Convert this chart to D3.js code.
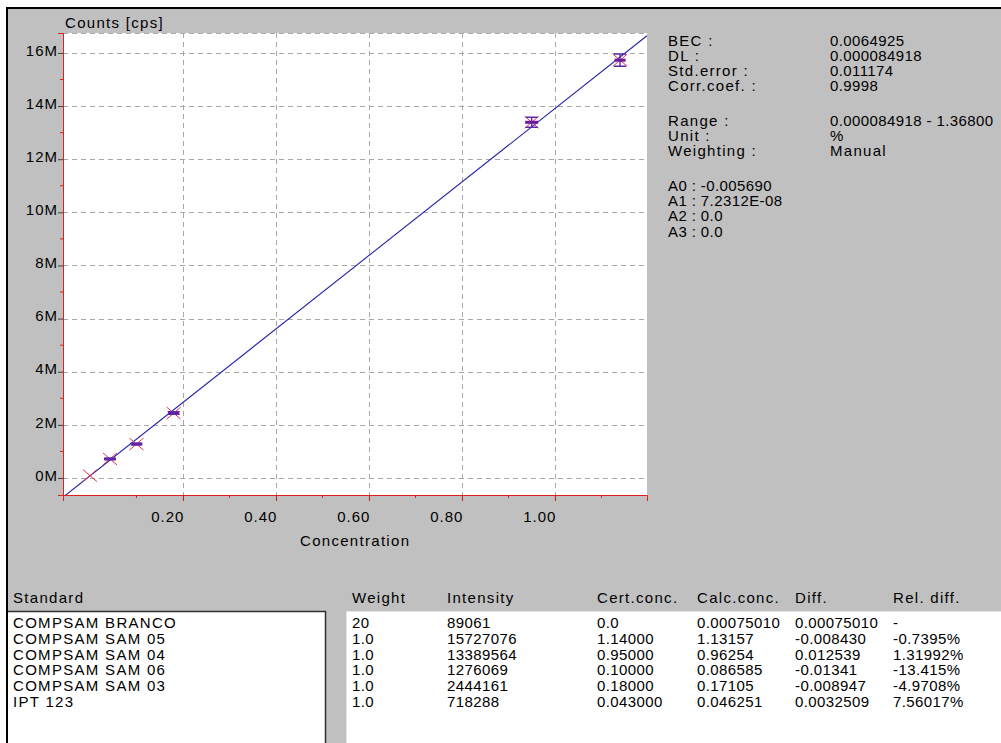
<!DOCTYPE html>
<html lang="en">
<head>
<meta charset="UTF-8" />
<title>Calibration curve</title>
<script src="https://d3js.org/d3.v7.min.js"></script>
<style>
  html, body { margin: 0; padding: 0; background: #fff; }
  svg text { font-family: "Liberation Sans", Arial, sans-serif; font-size: 15px; letter-spacing: 0.4px; fill: #000; }
  svg text.word { letter-spacing: 1.3px; }
  svg text.tick-num { letter-spacing: 1px; }
</style>
</head>
<body>
<svg id="chart" width="1001" height="743"></svg>
<script>
  // standards table
  const standards = ["COMPSAM BRANCO", "COMPSAM SAM 05", "COMPSAM SAM 04", "COMPSAM SAM 06", "COMPSAM SAM 03", "IPT 123"];
  const weights = ["20", "1.0", "1.0", "1.0", "1.0", "1.0"];
  const intensities = [89061, 15727076, 13389564, 1276069, 2444161, 718288];
  const certConc = ["0.0", "1.14000", "0.95000", "0.10000", "0.18000", "0.043000"];
  const calcConc = ["0.00075010", "1.13157", "0.96254", "0.086585", "0.17105", "0.046251"];
  const diffs = ["0.00075010", "-0.008430", "0.012539", "-0.01341", "-0.008947", "0.0032509"];
  const relDiffs = ["-", "-0.7395%", "1.31992%", "-13.415%", "-4.9708%", "7.56017%"];
  const headers = ["Standard", "Weight", "Intensity", "Cert.conc.", "Calc.conc.", "Diff.", "Rel. diff."];

  // error bar half sizes
  const intensityErr = [0, 230000, 190000, 30000, 50000, 20000];
  const concErr = [0, 0.012, 0.014, 0.011, 0.012, 0.012];

  // fit: conc = A0 + A1 * intensity
  const coefNames = ["A0", "A1", "A2", "A3"];
  const coefLabels = ["-0.005690", "7.2312E-08", "0.0", "0.0"];
  const coefs = [-0.005690, 7.2312e-8, 0, 0];

  const statNames = ["BEC :", "DL :", "Std.error :", "Corr.coef. :"];
  const statValues = ["0.0064925", "0.000084918", "0.011174", "0.9998"];
  const rangeNames = ["Range :", "Unit :", "Weighting :"];
  const rangeValues = ["0.000084918 - 1.36800", "%", "Manual"];

  const xTicks = [0.2, 0.4, 0.6, 0.8, 1.0];
  const xMinor = [0.1, 0.3, 0.5, 0.7, 0.9, 1.1];
  const yTicks = [0, 2e6, 4e6, 6e6, 8e6, 10e6, 12e6, 14e6, 16e6];
  const yMinor = [1e6, 3e6, 5e6, 7e6, 9e6, 11e6, 13e6, 15e6];

  const svg = d3.select("#chart");
  const plot = { left: 63, right: 647, top: 33, bottom: 495 };

  // window frame
  svg.append("rect").attr("x", 7).attr("y", 8).attr("width", 994).attr("height", 735)
    .attr("fill", "#c0c0c0");
  svg.append("line").attr("x1", 6).attr("x2", 1001).attr("y1", 8).attr("y2", 8)
    .attr("stroke", "#000").attr("stroke-width", 2);
  svg.append("line").attr("x1", 7).attr("x2", 7).attr("y1", 7).attr("y2", 743)
    .attr("stroke", "#000").attr("stroke-width", 2);

  const x = d3.scaleLinear().domain([-0.058, 1.198]).range([plot.left, plot.right]);
  const y = d3.scaleLinear().domain([-0.64e6, 16.75e6]).range([plot.bottom, plot.top]);

  svg.append("rect")
    .attr("x", plot.left).attr("y", plot.top)
    .attr("width", plot.right - plot.left).attr("height", plot.bottom - plot.top)
    .attr("fill", "#fff");

  svg.append("defs").append("clipPath").attr("id", "clip")
    .append("rect")
    .attr("x", plot.left).attr("y", plot.top)
    .attr("width", plot.right - plot.left).attr("height", plot.bottom - plot.top);

  // grid
  const grid = svg.append("g").attr("stroke", "#a8a8a8").attr("stroke-dasharray", "5,4");
  grid.selectAll(".hg").data(yTicks).join("line")
    .attr("x1", plot.left).attr("x2", plot.right)
    .attr("y1", d => Math.round(y(d)) + 0.5).attr("y2", d => Math.round(y(d)) + 0.5);
  grid.selectAll(".vg").data(xTicks).join("line")
    .attr("x1", d => Math.round(x(d)) + 0.5).attr("x2", d => Math.round(x(d)) + 0.5)
    .attr("y1", plot.top).attr("y2", plot.bottom);
  grid.append("line")
    .attr("x1", plot.left).attr("x2", plot.right)
    .attr("y1", plot.top + 0.5).attr("y2", plot.top + 0.5);

  // axes
  const xAxis = d3.axisBottom(x).tickValues(xTicks).tickSize(6).tickFormat(d3.format(".2f"));
  const gx = svg.append("g").attr("transform", `translate(0,${plot.bottom})`).call(xAxis);
  gx.attr("font-size", null).attr("font-family", null);
  gx.select(".domain").attr("stroke", "#e02020");
  gx.selectAll(".tick line").attr("stroke", "#c02020");
  gx.selectAll(".tick text").attr("class", "tick-num").attr("text-anchor", "end")
    .attr("x", 1).attr("y", 27).attr("dy", null);
  gx.selectAll(".minor").data(xMinor).join("line")
    .attr("x1", d => x(d)).attr("x2", d => x(d)).attr("y1", 0).attr("y2", 3)
    .attr("stroke", "#e02020");

  const yAxis = d3.axisLeft(y).tickValues(yTicks).tickSize(5).tickFormat(d => (d / 1e6) + "M");
  const gy = svg.append("g").attr("transform", `translate(${plot.left},0)`).call(yAxis);
  gy.attr("font-size", null).attr("font-family", null);
  gy.select(".domain").attr("stroke", "#e02020");
  gy.selectAll(".tick line").attr("stroke", "#404040");
  gy.selectAll(".tick text").attr("class", "tick-num").attr("x", -5).attr("dy", "0.15em").attr("y", 0);
  gy.selectAll(".minor").data(yMinor).join("line")
    .attr("x1", -3).attr("x2", 0).attr("y1", d => y(d)).attr("y2", d => y(d))
    .attr("stroke", "#e02020");

  svg.append("text").attr("class", "word").attr("x", 65).attr("y", 28).text("Counts [cps]");
  svg.append("text").attr("class", "word").attr("x", 300).attr("y", 546).text("Concentration");

  // regression line: intensity = (conc - A0) / A1
  const fitLine = x.domain().map(c => [c, (c - coefs[0]) / coefs[1]]);
  svg.append("path")
    .datum(fitLine)
    .attr("clip-path", "url(#clip)")
    .attr("fill", "none").attr("stroke", "#2222a8").attr("stroke-width", 1.1)
    .attr("d", d3.line().x(d => x(d[0])).y(d => y(d[1])));

  // standards with error bars
  const pts = standards.map((s, i) => ({
    c: +certConc[i], I: intensities[i], eI: intensityErr[i], eC: concErr[i]
  }));
  const marks = svg.append("g").selectAll("g").data(pts).join("g");
  marks.append("path")
    .attr("fill", "none").attr("stroke", "#e8304c").attr("stroke-width", 1)
    .attr("d", d => {
      const cx = x(d.c), cy = y(d.I);
      return `M${cx - 7},${cy - 6}L${cx + 7},${cy + 6}M${cx - 7},${cy + 6}L${cx + 7},${cy - 6}`;
    });
  marks.filter(d => d.eC > 0).append("line")
    .attr("x1", d => x(d.c - d.eC)).attr("x2", d => x(d.c + d.eC))
    .attr("y1", d => y(d.I)).attr("y2", d => y(d.I))
    .attr("stroke", "#6a1a9a").attr("stroke-width", 3);
  marks.filter(d => d.eI > 0).append("path")
    .attr("fill", "none").attr("stroke", "#5a2aa8").attr("stroke-width", 1.4)
    .attr("d", d => {
      const cx = x(d.c), y0 = y(d.I - d.eI), y1 = y(d.I + d.eI);
      return `M${cx},${y0}L${cx},${y1}M${cx - 6},${y0}L${cx + 6},${y0}M${cx - 6},${y1}L${cx + 6},${y1}`;
    });

  // statistics block
  const stats = svg.append("g");
  const statRows = [
    ...statNames.map((n, i) => [n, statValues[i], 46 + i * 15.1]),
    ...rangeNames.map((n, i) => [n, rangeValues[i], 126 + i * 15.1])
  ];
  statRows.forEach(r => {
    stats.append("text").attr("class", "word").attr("x", 668).attr("y", r[2]).text(r[0]);
    stats.append("text").attr("class", /[a-z]/i.test(r[1]) ? "word" : null)
      .attr("x", 830).attr("y", r[2]).text(r[1]);
  });
  coefNames.forEach((n, i) => {
    stats.append("text").attr("x", 668).attr("y", 191 + i * 15.2).text(`${n} : ${coefLabels[i]}`);
  });

  // table
  svg.append("rect").attr("x", 8).attr("y", 611).attr("width", 317).attr("height", 132).attr("fill", "#fff");
  svg.append("path").attr("fill", "none").attr("stroke", "#303030").attr("stroke-width", 1.5)
    .attr("d", "M8,611.5H325.5V743");
  svg.append("rect").attr("x", 346).attr("y", 611).attr("width", 655).attr("height", 132).attr("fill", "#fff");
  svg.append("path").attr("fill", "none").attr("stroke", "#e4e4e4")
    .attr("d", "M346.5,743V611.5H1001");

  const colX = [13, 352, 447, 597, 697, 795, 893];
  const table = svg.append("g");
  headers.forEach((h, j) => table.append("text").attr("class", "word").attr("x", colX[j]).attr("y", 603).text(h));
  const cols = [standards, weights, intensities.map(String), certConc, calcConc, diffs, relDiffs];
  standards.forEach((s, i) => {
    cols.forEach((col, j) => {
      table.append("text").attr("class", j === 0 ? "word" : null)
        .attr("x", colX[j]).attr("y", 628 + i * 15.8).text(col[i]);
    });
  });
</script>
</body>
</html>
